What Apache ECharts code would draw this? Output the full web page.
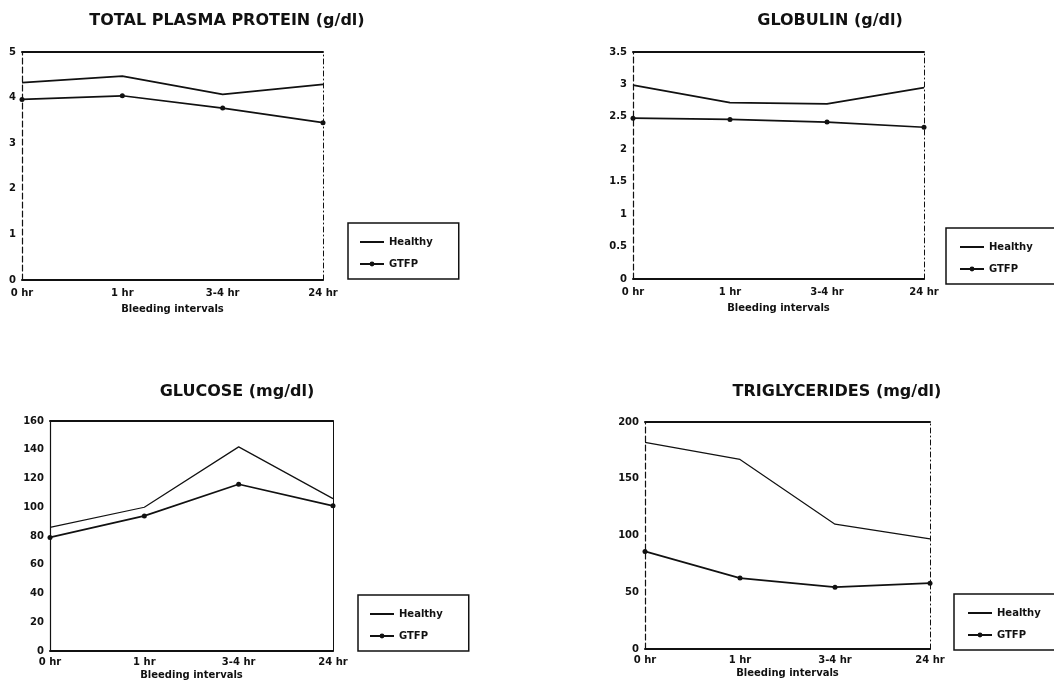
<!DOCTYPE html>
<html>
<head>
<meta charset="utf-8">
<script src="https://cdn.jsdelivr.net/npm/echarts@6/dist/echarts.min.js"></script>
<style>
html,body{margin:0;padding:0;background:#fff;}
#c{width:1054px;height:684px;}
</style>
</head>
<body>
<div id="c"></div>
<script>
// ---- data ----
const categories = ['0 hr', '1 hr', '3-4 hr', '24 hr'];
const axisName = 'Bleeding intervals';
const seriesNames = ['Healthy', 'GTFP'];
const titles = ['TOTAL PLASMA PROTEIN (g/dl)', 'GLOBULIN (g/dl)', 'GLUCOSE (mg/dl)', 'TRIGLYCERIDES (mg/dl)'];
const tppHealthy = [4.33, 4.47, 4.07, 4.29];
const tppGtfp = [3.96, 4.04, 3.77, 3.45];
const globHealthy = [2.99, 2.72, 2.70, 2.95];
const globGtfp = [2.48, 2.46, 2.42, 2.34];
const gluHealthy = [86, 100, 142, 106];
const gluGtfp = [79, 94, 116, 101];
const triHealthy = [182, 167, 110, 97];
const triGtfp = [86, 62.5, 54.5, 58];
const yMax = [5, 3.5, 160, 200];
const yInterval = [1, 0.5, 20, 50];

// ---- layout ----
const panels = [
  {grid:{left:22, top:52, width:301, height:228}, title:[227,13], legend:[348,223], lpad:[14,26,10,11], nameGap:24, labelMargin:8, leftDash:true, h:tppHealthy, g:tppGtfp},
  {grid:{left:633, top:52, width:291, height:227}, title:[830,13], legend:[946,228], lpad:[14,70,10,13], nameGap:24, labelMargin:8, leftDash:true, h:globHealthy, g:globGtfp},
  {grid:{left:50, top:421, width:283, height:230}, title:[237,384], legend:[358,595], lpad:[14,26,10,11], nameGap:19, labelMargin:6, leftDash:false, h:gluHealthy, g:gluGtfp},
  {grid:{left:645, top:422, width:285, height:227}, title:[837,384], legend:[954,594], lpad:[14,70,10,13], nameGap:19, labelMargin:6, leftDash:true, h:triHealthy, g:triGtfp}
];

const FF = 'DejaVu Sans';
const INK = '#111';
const option = {
  backgroundColor: '#fff',
  animation: false,
  title: [], grid: [], xAxis: [], yAxis: [], legend: [], series: []
};

panels.forEach((p, i) => {
  option.title.push({
    text: titles[i], left: p.title[0], top: p.title[1], textAlign: 'center', padding: 0,
    textStyle: {fontFamily: FF, fontWeight: 'bold', fontSize: 16, color: INK}
  });
  option.grid.push(p.grid);
  // bottom axis
  option.xAxis.push({
    gridIndex: i, type: 'category', data: categories, boundaryGap: false, position: 'bottom',
    name: axisName, nameLocation: 'middle', nameGap: p.nameGap,
    nameTextStyle: {fontFamily: FF, fontWeight: 'bold', fontSize: 10, color: INK},
    axisLine: {onZero: false, lineStyle: {color: INK, width: 2}},
    axisTick: {show: false},
    axisLabel: {fontFamily: FF, fontWeight: 'bold', fontSize: 10, color: INK, margin: p.labelMargin},
    splitLine: {show: false}
  });
  // top frame axis
  option.xAxis.push({
    gridIndex: i, type: 'category', data: categories, boundaryGap: false, position: 'top',
    axisLine: {onZero: false, lineStyle: {color: INK, width: 2}},
    axisTick: {show: false}, axisLabel: {show: false}, splitLine: {show: false}
  });
  option.yAxis.push({
    gridIndex: i, type: 'value', min: 0, max: yMax[i], interval: yInterval[i], position: 'left',
    axisLine: {show: true, onZero: false, lineStyle: {color: INK, width: 1.2, type: p.leftDash ? [6, 3] : 'solid'}},
    axisTick: {show: false},
    axisLabel: {fontFamily: FF, fontWeight: 'bold', fontSize: 10, color: INK, margin: 6},
    splitLine: {show: false}
  });
  option.yAxis.push({
    gridIndex: i, type: 'value', min: 0, max: yMax[i], interval: yInterval[i], position: 'right',
    axisLine: {show: true, onZero: false, lineStyle: {color: INK, width: 1, type: i === 2 ? 'solid' : [5, 3, 1, 3]}},
    axisTick: {show: false}, axisLabel: {show: false}, splitLine: {show: false}
  });
  option.legend.push({
    left: p.legend[0], top: p.legend[1], orient: 'vertical',
    data: [{name: seriesNames[0], itemStyle: {opacity: 0}}, {name: seriesNames[1]}],
    padding: p.lpad, itemGap: 12, itemWidth: 24, itemHeight: 6,
    borderColor: INK, borderWidth: 1.5,
    textStyle: {fontFamily: FF, fontWeight: 'bold', fontSize: 10, color: INK},
    selectedMode: false
  });
  option.series.push({
    name: seriesNames[0], type: 'line', xAxisIndex: 2 * i, yAxisIndex: 2 * i, data: p.h,
    symbol: 'none', lineStyle: {color: INK, width: i >= 2 ? 1.2 : 1.7}, itemStyle: {color: INK}
  });
  option.series.push({
    name: seriesNames[1], type: 'line', xAxisIndex: 2 * i, yAxisIndex: 2 * i, data: p.g,
    symbol: 'circle', symbolSize: 5, lineStyle: {color: INK, width: 1.7}, itemStyle: {color: INK}
  });
});

const chart = echarts.init(document.getElementById('c'), null, {renderer: 'canvas'});
chart.setOption(option);
</script>
</body>
</html>
